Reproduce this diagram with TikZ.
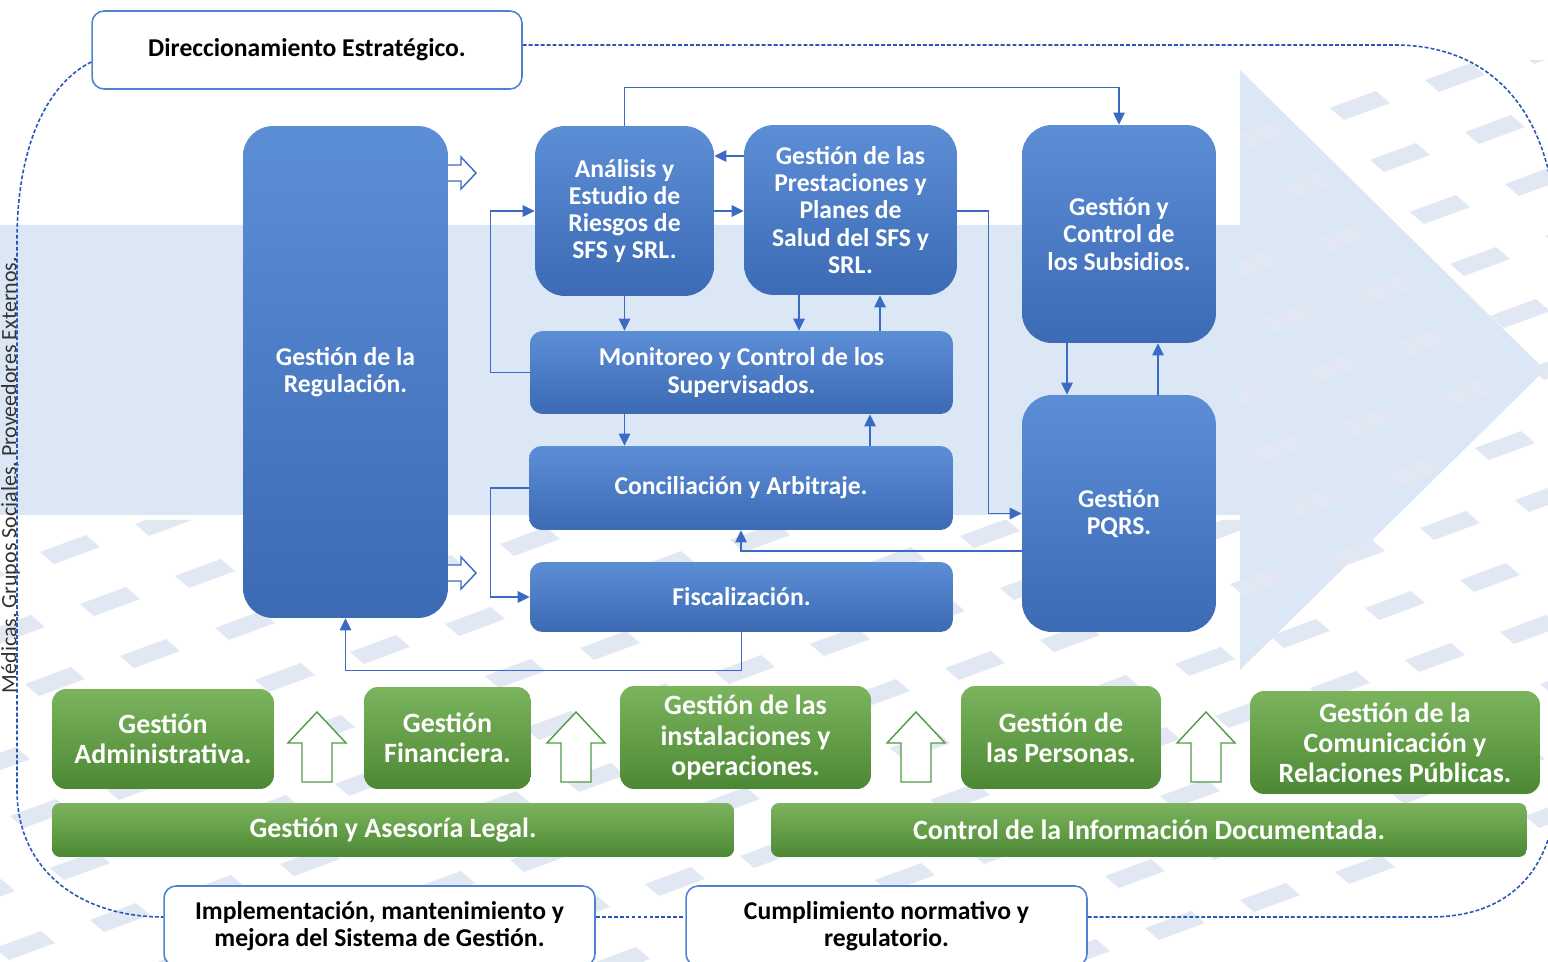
\documentclass[tikz,border=0pt]{standalone}
\usepackage{fontspec}
\setmainfont{Carlito}
\usetikzlibrary{arrows.meta}

\definecolor{boxtop}{RGB}{92,142,214}
\definecolor{boxbot}{RGB}{60,106,180}
\definecolor{greentop}{RGB}{124,180,94}
\definecolor{greenbot}{RGB}{76,136,52}
\definecolor{greenline}{RGB}{80,155,70}
\definecolor{lineblue}{RGB}{58,106,196}
\definecolor{framecol}{RGB}{40,88,180}
\definecolor{borderblue}{RGB}{80,130,212}
\definecolor{bandblue}{RGB}{220,231,246}
\definecolor{tilecol}{RGB}{226,232,243}

\newcommand\bluefont{\fontsize{14.6}{15.5}\selectfont\bfseries}
\newcommand\greenfont{\fontsize{15.9}{17.2}\selectfont\bfseries}
\newcommand\titlefont{\fontsize{14.6}{15.6}\selectfont\bfseries}

\begin{document}
\begin{tikzpicture}[x=0.02cm,y=-0.02cm,
	blue box/.style={
		rectangle,
		rounded corners=0.6cm,
		top color=boxtop,
		bottom color=boxbot,
		draw=none,
		text=white,
		inner sep=0pt,
		align=center,
		font=\bluefont
	},
	wide box/.style={
		blue box,
		rounded corners=0.25cm
	},
	green box/.style={
		rectangle,
		rounded corners=0.28cm,
		top color=greentop,
		bottom color=greenbot,
		draw=none,
		text=white,
		inner sep=0pt,
		align=center,
		font=\greenfont
	},
	white box/.style={
		rectangle,
		rounded corners=0.24cm,
		fill=white,
		draw=borderblue,
		line width=0.9pt,
		inner sep=0pt,
		align=center,
		font=\titlefont
	},
	link/.style={draw=lineblue, line width=0.7pt, -{Triangle[length=2.4mm,width=2.3mm]}},
	frame/.style={draw=framecol, line width=0.9pt, dash pattern=on 2.2pt off 1.2pt},
	hollow/.style={draw=lineblue, fill=white, line width=0.8pt, line join=miter},
	hollow green/.style={draw=greenline, fill=white, line width=0.8pt, line join=miter},
	tile/.style={fill=tilecol}
]
	\useasboundingbox (0,0) rectangle (1548,962);
	\fill[white] (0,0) rectangle (1548,962);

	% background
	\fill[bandblue] (0,225) -- (1240,225) -- (1240,70) -- (1545,370) -- (1240,670) -- (1240,515) -- (0,515) -- cycle;
	\begin{scope}
		\clip (0,520) rectangle (1548,962) (1240,60) rectangle (1548,520);
		\foreach \i in {-6,...,20}
			\foreach \j in {0,...,12}
				\fill[tile] ({\i*95+\j*40},{500+\j*52-\i*28}) -- ++(46,-17) -- ++(14,12) -- ++(-46,17) -- cycle;
	\end{scope}

	% side text
	\node[rotate=90, anchor=base, font=\fontsize{12.5}{14}\selectfont, text=black!80] (ext) at (16.5,475) {Médicas, Grupos Sociales, Proveedores Externos.};

	% white boxes
	\node[white box, minimum width=8.6cm, minimum height=1.56cm] (dir) at (307,50) {Direccionamiento Estratégico.};
	\node[white box, minimum width=8.62cm, minimum height=1.6cm] (imp) at (379.5,926) {Implementación, mantenimiento y\\mejora del Sistema de Gestión.};
	\node[white box, minimum width=8.02cm, minimum height=1.6cm] (cum) at (886.5,926) {Cumplimiento normativo y\\regulatorio.};

	% dashed frame
	\draw[frame] (dir.east |- 0,45) -- (1395,45) .. controls (1490,45) and (1552,110) .. (1556,230);
	\draw[frame] (dir.west |- 0,62) .. controls (45,85) and (17,150) .. (17,240) -- (17,790) .. controls (17,870) and (80,917) .. (imp.west |- 0,917);
	\draw[frame] (imp.east |- 0,917) -- (cum.west |- 0,917);
	\draw[frame] (cum.east |- 0,917) -- (1430,917) .. controls (1510,917) and (1550,870) .. (1556,800);

	% blue process boxes
	\node[blue box, minimum width=4.1cm, minimum height=9.84cm] (reg) at (345.5,372) {Gestión de la\\Regulación.};
	\node[blue box, minimum width=3.58cm, minimum height=3.4cm] (ana) at (624.5,211) {Análisis y\\Estudio de\\Riesgos de\\SFS y SRL.};
	\node[blue box, minimum width=4.26cm, minimum height=3.4cm] (pre) at (850.5,210) {Gestión de las\\Prestaciones y\\Planes de\\Salud del SFS y\\SRL.};
	\node[blue box, minimum width=3.88cm, minimum height=4.36cm] (sub) at (1119,234) {Gestión y\\Control de\\los Subsidios.};
	\node[wide box, minimum width=8.46cm, minimum height=1.66cm] (mon) at (741.5,372.5) {Monitoreo y Control de los\\Supervisados.};
	\node[wide box, minimum width=8.48cm, minimum height=1.68cm] (con) at (741,488) {Conciliación y Arbitraje.};
	\node[wide box, minimum width=8.46cm, minimum height=1.4cm] (fis) at (741.5,597) {Fiscalización.};
	\node[blue box, minimum width=3.88cm, minimum height=4.74cm] (pqrs) at (1119,513.5) {Gestión\\PQRS.};

	% green support boxes
	\node[green box, minimum width=4.44cm, minimum height=2cm] (adm) at (163,739) {Gestión\\Administrativa.};
	\node[green box, minimum width=3.34cm, minimum height=2.04cm] (fin) at (447.5,738) {Gestión\\Financiera.};
	\node[green box, minimum width=5.02cm, minimum height=2.06cm] (ins) at (745.5,737.5) {Gestión de las\\instalaciones y\\operaciones.};
	\node[green box, minimum width=4cm, minimum height=2.06cm] (per) at (1061,737.5) {Gestión de\\las Personas.};
	\node[green box, minimum width=5.8cm, minimum height=2.06cm] (com) at (1395,742.5) {Gestión de la\\Comunicación y\\Relaciones Públicas.};
	\node[green box, rounded corners=0.16cm, minimum width=13.64cm, minimum height=1.08cm] (legal) at (393,830) {Gestión y Asesoría Legal.};
	\node[green box, rounded corners=0.16cm, minimum width=15.12cm, minimum height=1.08cm] (doc) at (1149,830) {Control de la Información Documentada.};

	% hollow arrows
	\foreach \cy in {173,573}
		\draw[hollow] (448,\cy-8) -- (461,\cy-8) -- (461,\cy-16) -- (476,\cy) -- (461,\cy+16) -- (461,\cy+8) -- (448,\cy+8);
	\foreach \cx in {317,576,916,1206}
		\draw[hollow green] (\cx-15,782) -- (\cx-15,743) -- (\cx-29,743) -- (\cx,712) -- (\cx+29,743) -- (\cx+15,743) -- (\cx+15,782) -- cycle;

	% connectors
	\draw[link] (ana.north) -- ++(0,-38) -| (sub.north);
	\draw[link] (pre.west |- 0,156) -- (ana.east |- 0,156);
	\draw[link] (ana.east |- 0,211) -- (pre.west |- 0,211);
	\draw[link] (mon.west) -- ++(-39,0) |- (ana.west);
	\draw[link] (ana.south) -- (ana.south |- mon.north);
	\draw[link] (pre.south -| 799,0) -- (mon.north -| 799,0);
	\draw[link] (mon.north -| 880,0) -- (pre.south -| 880,0);
	\draw[link] (mon.south -| ana.south) -- (con.north -| ana.south);
	\draw[link] (con.north -| 870,0) -- (mon.south -| 870,0);
	\draw[link] (con.west) -- ++(-38,0) |- (fis.west);
	\draw[link] (pre.east |- 0,211) -- ++(31,0) |- (pqrs.west);
	\draw[link] (pqrs.west |- 0,551) -| (con.south);
	\draw[link] (fis.south) -- ++(0,38) -| (reg.south);
	\draw[link] (sub.south -| 1067,0) -- (pqrs.north -| 1067,0);
	\draw[link] (pqrs.north -| 1158,0) -- (sub.south -| 1158,0);
\end{tikzpicture}
\end{document}
